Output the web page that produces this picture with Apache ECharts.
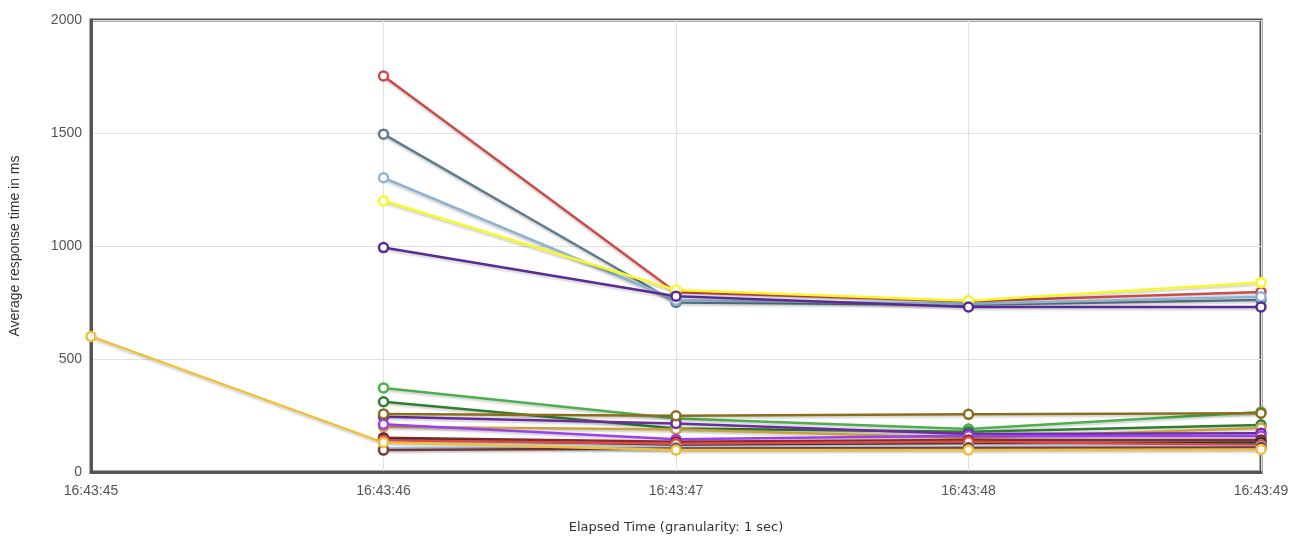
<!DOCTYPE html>
<html><head><meta charset="utf-8">
<script src="https://cdn.jsdelivr.net/npm/echarts@6/dist/echarts.min.js"></script>
<style>html,body{margin:0;padding:0;background:#fff}#c{width:1302px;height:536px}</style>
</head><body><div id="c"></div>
<script>
const categories = ['16:43:45','16:43:46','16:43:47','16:43:48','16:43:49'];
const yTicks = [0, 500, 1000, 1500, 2000];
const sRed = [null, 1752, 795, 755, 796];
const sSlate = [null, 1495, 750, 740, 761];
const sLightBlue = [null, 1302, 760, 745, 775];
const sYellow = [null, 1200, 805, 758, 838];
const sPurple = [null, 993, 778, 730, 730];
const sGreen = [null, 372, 237, 190, 265];
const sDarkGreen = [null, 311, 192, 178, 208];
const sOlive = [null, 257, 249, 255, 260];
const sDarkPurple = [null, 245, 215, 168, 172];
const sViolet = [null, 211, 145, 160, 159];
const sTan = [null, 200, 188, 150, 195];
const sMaroon = [null, 152, 134, 142, 142];
const sDark = [null, 146, 122, 128, 130];
const sRed2 = [null, 141, 125, 134, 120];
const sSky = [null, 105, 110, 110, 112];
const sBrown = [null, 97, 104, 106, 108];
const sOrange = [600, 130, 97, 97, 100];

const seriesDefs = [
  ['Red', sRed, '#cb4b4b'],
  ['Slate', sSlate, '#5f7b8e'],
  ['LightBlue', sLightBlue, '#8fb3d0'],
  ['Yellow', sYellow, '#f7f72a'],
  ['Purple', sPurple, '#5a2a94'],
  ['Green', sGreen, '#4cae4c'],
  ['DarkGreen', sDarkGreen, '#2f7d32'],
  ['Tan', sTan, '#c9a43a'],
  ['DarkPurple', sDarkPurple, '#6a2ca0'],
  ['Violet', sViolet, '#9b3ff0'],
  ['Maroon', sMaroon, '#8b2a2a'],
  ['Dark', sDark, '#2b3a2b'],
  ['Red2', sRed2, '#e04848'],
  ['Sky', sSky, '#9cc8ea'],
  ['Brown', sBrown, '#7a3a3a'],
  ['Olive', sOlive, '#8b6d1c'],
  ['Orange', sOrange, '#f0c03c']
];

const chart = echarts.init(document.getElementById('c'));
chart.setOption({
  animation: false,
  grid: {left: 91, right: 41, top: 20, bottom: 64, show: true, borderColor: '#555', borderWidth: 3,
    containLabel: false, outerBoundsMode: 'none'},
  xAxis: {
    type: 'category', data: categories, boundaryGap: false,
    name: 'Elapsed Time (granularity: 1 sec)', nameLocation: 'middle', nameGap: 49,
    nameTextStyle: {fontFamily: 'DejaVu Sans', fontSize: 13, color: '#333'},
    axisLine: {show: true, lineStyle: {color: '#555', width: 3}},
    axisTick: {show: false},
    axisLabel: {color: '#545454', fontFamily: 'Liberation Sans', fontSize: 14, margin: 12},
    splitLine: {show: true, lineStyle: {color: '#e0e0e0', width: 1}}
  },
  yAxis: {
    type: 'value', min: yTicks[0], max: yTicks[yTicks.length-1], interval: 500,
    name: 'Average response time in ms', nameLocation: 'middle', nameGap: 69, nameRotate: 90,
    nameTextStyle: {fontFamily: 'Liberation Sans', fontSize: 14, color: '#333'},
    axisLine: {show: true, lineStyle: {color: '#555', width: 3}},
    axisTick: {show: false},
    axisLabel: {color: '#545454', fontFamily: 'Liberation Sans', fontSize: 14, margin: 9,
      formatter: v => String(v)},
    splitLine: {show: true, lineStyle: {color: '#e0e0e0', width: 1}}
  },
  series: seriesDefs.map(([n, d, c]) => ({
    name: n, type: 'line', data: d, connectNulls: false,
    symbol: 'circle', symbolSize: 9, showSymbol: true,
    itemStyle: {color: '#fff', borderColor: c, borderWidth: 2.5},
    lineStyle: {color: c, width: 2.5, shadowColor: 'rgba(0,0,0,0.18)', shadowBlur: 2, shadowOffsetY: 2},
    z: 2
  }))
});
</script></body></html>
